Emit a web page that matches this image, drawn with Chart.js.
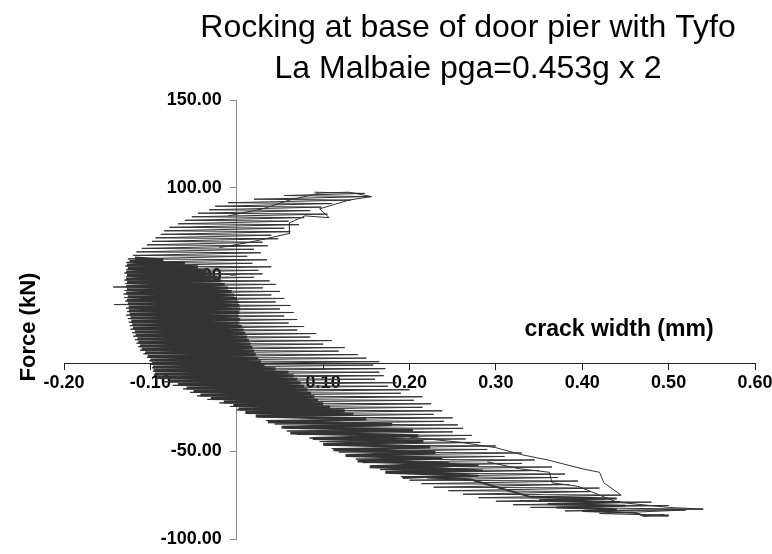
<!DOCTYPE html>
<html>
<head>
<meta charset="utf-8">
<script src="https://cdn.jsdelivr.net/npm/chart.js@4.4.1/dist/chart.umd.min.js"></script>
<style>
  html, body { margin: 0; padding: 0; background: #fff; }
  #wrap { width: 772px; height: 554px; }
</style>
</head>
<body>
<div id="wrap"><canvas id="rocking"></canvas></div>
<script>
// chart texts
var titleLines = ["Rocking at base of door pier with Tyfo", "La Malbaie pga=0.453g x 2"];
var xTitle = "crack width (mm)";
var yTitle = "Force (kN)";

// axis ticks
var xTicks = [-0.2, -0.1, 0, 0.1, 0.2, 0.3, 0.4, 0.5, 0.6];
var yTicks = [-100, -50, 0, 50, 100, 150];

// [crack width mm, force kN]
// dense core of the hysteresis trace
var coreTrace = [
  [-0.118,60],[-0.085,59],[-0.124,58],[-0.060,57],[-0.127,56],[-0.045,55],[-0.126,54],[-0.035,53],
  [-0.128,52],[-0.028,51],[-0.127,50],[-0.022,49],[-0.128,48],[-0.018,47],[-0.127,46],[-0.014,45],
  [-0.128,44],[-0.010,43],[-0.127,42],[-0.006,41],[-0.128,40],[-0.003,39],[-0.126,38],[0.000,37],
  [-0.127,36],[0.002,35],[-0.126,34],[0.003,33],[-0.125,32],[0.004,31],[-0.125,30],[0.003,29],
  [-0.124,28],[0.002,27],[-0.123,26],[0.004,25],[-0.122,24],[0.003,23],[-0.121,22],[0.006,21],
  [-0.120,20],[0.008,19],[-0.118,18],[0.010,17],[-0.117,16],[0.012,15],[-0.115,14],[0.014,13],
  [-0.114,12],[0.016,11],[-0.112,10],[0.018,9],[-0.110,8],[0.020,7],[-0.106,6],[0.022,5],
  [-0.103,4],[0.025,3],[-0.100,2],[0.028,1],[-0.098,0],[0.032,-1],[-0.097,-2],[0.045,-3],
  [-0.096,-4],[0.060,-5],[-0.095,-6],[0.066,-7],[-0.092,-8],[0.070,-9],[-0.078,-10],[0.074,-11],
  [-0.068,-12],[0.078,-13],[-0.058,-14],[0.082,-15],[-0.050,-16],[0.086,-17],[-0.042,-18],[0.090,-19],
  [-0.030,-20],[0.094,-21],[-0.015,-22],[0.100,-23],[-0.004,-24],[0.108,-25],[0.002,-26],[0.125,-27],
  [0.010,-28],[0.135,-29],[0.022,-30],[0.150,-31.6],[0.036,-33.2],[0.180,-34.8],[0.052,-36.4],[0.204,-38],
  [0.062,-39.6],[0.210,-41.2],[0.088,-42.8],[0.216,-44.4],[0.100,-46],[0.224,-47.6],[0.112,-49.2],[0.230,-50.8],
  [0.126,-52.4],[0.238,-54],[0.140,-55.6],[0.246,-57.2],[0.154,-58.8],[0.254,-60.4],[0.172,-62],[0.262,-63.6],
  [0.192,-65]
];

// lighter outer sweeps of the band
var fringeTrace = [
  [0.090,97.5],[0.148,96.8],[0.055,95.6],[0.156,95],[0.020,93.5],[0.132,93],[-0.010,91.5],[0.110,91],
  [-0.025,89.5],[0.098,89],[-0.032,87.5],[0.085,87],[-0.045,85.5],[0.105,85],[-0.052,83.5],[0.078,83],
  [-0.060,81.5],[0.060,81],[-0.068,79.5],[0.072,79],[-0.078,77.5],[0.055,77],[-0.084,75.5],[0.062,75],
  [-0.088,73.5],[0.040,73],[-0.094,71.5],[0.048,71],[-0.098,69.5],[0.030,69],[-0.104,67.5],[0.036,67],
  [-0.110,65.5],[0.020,65],[-0.116,63.5],[0.028,63],[-0.120,61.5],[0.012,61],[-0.126,59.5],[0.035,59],
  [-0.128,57.5],[0.018,57],[-0.129,55.5],[0.040,55],[-0.128,53.5],[0.025,53],[-0.130,51.5],[0.030,51],
  [-0.128,49.5],[0.020,49],[-0.130,47.5],[0.038,47],[-0.129,45.5],[0.045,45],[-0.143,43.5],[0.030,43],
  [-0.130,41.5],[0.050,41],[-0.131,39.5],[0.040,39],[-0.130,37.5],[0.055,37],[-0.129,35.5],[0.045,35],
  [-0.142,33.5],[0.062,33],[-0.128,31.5],[0.050,31],[-0.127,29.5],[0.066,29],[-0.128,27.5],[0.055,27],
  [-0.126,25.5],[0.070,25],[-0.125,23.5],[0.060,23],[-0.124,21.5],[0.078,21],[-0.123,19.5],[0.070,19],
  [-0.121,17.5],[0.092,17],[-0.120,15.5],[0.085,15],[-0.118,13.5],[0.110,13],[-0.116,11.5],[0.100,11],
  [-0.114,9.5],[0.125,9],[-0.112,7.5],[0.118,7],[-0.108,5.5],[0.140,5],[-0.104,3.5],[0.150,3],
  [-0.101,1.5],[0.165,1],[-0.099,-0.5],[0.158,-1],[-0.098,-2.5],[0.172,-3],[-0.097,-4.5],[0.165,-5],
  [-0.096,-6.5],[0.170,-7],[-0.094,-8.5],[0.160,-9],[-0.084,-10.5],[0.185,-11],[-0.074,-12.5],[0.175,-13],
  [-0.062,-14.5],[0.200,-15],[-0.054,-16.5],[0.190,-17],[-0.046,-18.5],[0.215,-19],[-0.034,-20.5],[0.205,-21],
  [-0.020,-22.5],[0.225,-23],[-0.008,-24.5],[0.215,-25],[0.000,-26.5],[0.238,-27],[0.012,-28.5],[0.228,-29],
  [0.024,-30.5],[0.250,-31],[0.034,-32.5],[0.240,-33],[0.044,-34.5],[0.256,-35],[0.052,-36.5],[0.262,-37],
  [0.058,-38.5],[0.250,-39],[0.070,-40.5],[0.272,-41],[0.084,-42.5],[0.265,-43],[0.096,-44.5],[0.282,-45],
  [0.102,-46.5],[0.300,-47],[0.110,-48.5],[0.290,-49],[0.118,-50.5],[0.330,-51],[0.128,-52.5],[0.310,-53],
  [0.138,-54.5],[0.345,-55],[0.146,-56.5],[0.330,-57],[0.156,-58.5],[0.365,-59],[0.166,-60.5],[0.350,-61],
  [0.178,-62.5],[0.380,-63],[0.190,-64.5],[0.372,-65],[0.200,-66.5],[0.395,-67],[0.214,-68.5],[0.385,-69],
  [0.228,-70.5],[0.420,-71],[0.245,-72.5],[0.410,-73],[0.262,-74.5],[0.445,-75],[0.280,-76.5],[0.432,-77],
  [0.300,-78.5],[0.480,-79],[0.320,-80.5],[0.500,-81],[0.340,-82],[0.540,-83],[0.380,-84],[0.520,-83.5],
  [0.420,-85.5],[0.500,-86.5],[0.470,-87],[0.495,-86]
];

// outer loop near the positive force peak
var upperLoop = [
  [-0.010,84],[0.030,88],[0.061,93],[0.096,97],[0.130,97.5],[0.156,95],[0.130,93],[0.096,88],
  [0.107,83],[0.079,84],[0.061,80],[0.061,74],[0.015,69],[-0.020,66]
];

// stepped excursions in the negative force tail
var lowerStepA = [
  [0.200,-42],[0.260,-45],[0.300,-48],[0.330,-52],[0.360,-55],[0.400,-60],[0.420,-62],[0.425,-68],
  [0.445,-75]
];
var lowerStepB = [
  [0.290,-56],[0.327,-60],[0.362,-62],[0.365,-68],[0.395,-70],[0.440,-79],[0.500,-82],[0.540,-83]
];

// dark clusters in the tail
var tailClusters = [
  [0.190,-56],[0.280,-58],[0.200,-59],[0.285,-61],[0.210,-62],[0.280,-64],[0.220,-65],[0.270,-66],
  [0.340,-76],[0.440,-77],[0.350,-78],[0.445,-79],[0.360,-80],[0.450,-81],[0.370,-82],[0.440,-83],
  [0.400,-84],[0.460,-85],[0.470,-86.5],[0.500,-86.8]
];

function toPoints(arr) {
  return arr.map(function (p) { return { x: p[0], y: p[1] }; });
}

function trace(arr, width) {
  return {
    data: toPoints(arr),
    showLine: true,
    borderColor: "#333333",
    borderWidth: width,
    pointRadius: 0,
    tension: 0,
    fill: false
  };
}

var font = '"Liberation Sans", Arial, Helvetica, sans-serif';

var chartText = {
  id: "chartText",
  afterDraw: function (chart) {
    var c = chart.ctx;
    c.save();
    c.fillStyle = "#000";
    c.textAlign = "center";
    c.textBaseline = "alphabetic";
    c.font = "32px " + font;
    c.fillText(titleLines[0], 468, 37);
    c.fillText(titleLines[1], 468, 78);
    c.font = "bold 23px " + font;
    c.fillText(xTitle, 619, 336);
    c.translate(35, 327);
    c.rotate(-Math.PI / 2);
    c.font = "bold 22px " + font;
    c.fillText(yTitle, 0, 0);
    c.restore();
  }
};

function noPad(scale) {
  scale.paddingLeft = 0;
  scale.paddingRight = 0;
  scale.paddingTop = 0;
  scale.paddingBottom = 0;
}

new Chart(document.getElementById("rocking"), {
  type: "scatter",
  data: {
    datasets: [
      trace(fringeTrace, 1),
      trace(upperLoop, 1),
      trace(lowerStepA, 1),
      trace(lowerStepB, 1),
      trace(tailClusters, 2),
      trace(coreTrace, 3)
    ]
  },
  options: {
    responsive: true,
    maintainAspectRatio: false,
    animation: false,
    layout: { padding: { left: 64, right: 17, top: 100, bottom: 15 } },
    plugins: {
      legend: { display: false },
      title: { display: false },
      tooltip: { enabled: false }
    },
    scales: {
      x: {
        type: "linear",
        position: { y: 0 },
        min: -0.2,
        max: 0.6,
        z: 1,
        afterFit: noPad,
        afterBuildTicks: function (s) { s.ticks = xTicks.map(function (v) { return { value: v }; }); },
        ticks: {
          color: "#000",
          font: { family: font, size: 18, weight: "bold" },
          padding: 3,
          maxRotation: 0,
          callback: function (v) { return Number(v).toFixed(2); }
        },
        grid: { drawOnChartArea: false, drawTicks: true, tickLength: 6, color: "#222" },
        border: { display: true, color: "#222" }
      },
      y: {
        type: "linear",
        position: { x: 0 },
        min: -100,
        max: 150,
        z: 1,
        afterFit: noPad,
        afterBuildTicks: function (s) { s.ticks = yTicks.map(function (v) { return { value: v }; }); },
        ticks: {
          color: "#000",
          font: { family: font, size: 18, weight: "bold" },
          padding: 8,
          // trailing spaces keep the right-aligned labels clear of the axis line
          callback: function (v) { return Number(v).toFixed(2) + "   "; }
        },
        grid: { drawOnChartArea: false, drawTicks: true, tickLength: 6, color: "#888" },
        border: { display: true, color: "#888" }
      }
    }
  },
  plugins: [chartText]
});
</script>
</body>
</html>
